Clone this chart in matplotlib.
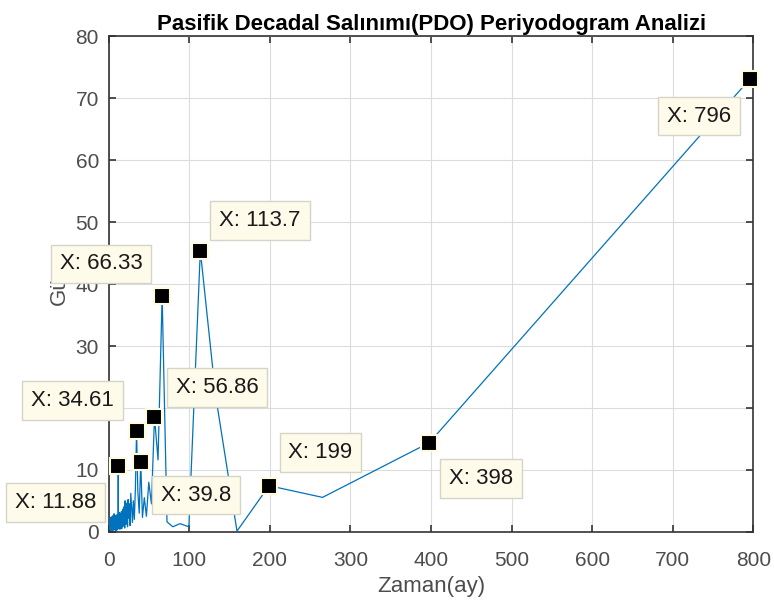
import matplotlib
matplotlib.use("Agg")
import matplotlib.pyplot as plt
import numpy as np

plt.rcParams['font.family'] = ['Liberation Sans', 'DejaVu Sans']

N = 796
# power for harmonic k = 1..70 (period = N / k)
power_main = [
    73.2, 14.4, 5.55, 7.43, 0.1, 22.0, 45.4, 0.8, 1.3, 0.8,
    1.6, 38.1, 11.6, 18.6, 4.5, 8.0, 2.5, 5.5, 2.3, 11.3,
    3.0, 6.5, 16.3, 7.0, 2.0, 5.0, 1.5, 3.8, 6.2, 1.0,
    4.5, 2.2, 5.2, 0.8, 3.5, 4.6, 1.2, 2.8, 5.0, 0.6,
    3.2, 1.8, 4.0, 0.9, 2.4, 3.6, 1.1, 2.9, 0.5, 3.3,
    1.7, 2.6, 0.7, 3.0, 1.4, 2.2, 0.4, 2.7, 1.0, 3.1,
    1.6, 0.8, 2.4, 1.2, 0.5, 2.0, 10.6, 1.8, 0.6, 1.4,
]
# power for harmonic k = 71..398 (short periods, dense cluster)
power_short = [
    0.9, 2.1, 0.3, 1.6, 2.8, 0.7, 1.2, 0.4, 2.3, 1.0, 0.6, 1.9, 2.5, 0.8, 1.3, 0.2, 1.7, 2.2, 0.5, 1.1,
    1.8, 0.4, 2.6, 0.9, 1.4, 0.3, 2.0, 1.2, 0.7, 1.6, 2.4, 0.5, 1.0, 1.9, 0.3, 1.5, 2.7, 0.8, 1.1, 0.6,
    2.2, 1.3, 0.4, 1.7, 0.9, 2.0, 0.6, 1.4, 2.9, 0.7, 1.0, 0.3, 1.8, 2.3, 0.5, 1.2, 0.8, 1.6, 0.4, 2.1,
    1.1, 0.6, 1.9, 0.3, 1.4, 2.5, 0.7, 1.0, 1.7, 0.4, 2.2, 0.9, 1.3, 0.5, 1.8, 0.8, 2.6, 0.6, 1.2, 0.3,
    1.5, 2.0, 0.7, 1.1, 0.4, 1.9, 1.3, 0.5, 2.4, 0.9, 0.6, 1.6, 0.3, 1.2, 2.1, 0.8, 1.0, 0.4, 1.7, 0.6,
    1.4, 2.3, 0.5, 0.9, 1.8, 0.3, 1.1, 2.0, 0.7, 1.3, 0.4, 1.6, 0.8, 2.2, 0.5, 1.0, 1.5, 0.3, 1.9, 0.7,
    1.2, 0.6, 2.0, 0.4, 1.4, 0.9, 1.7, 0.3, 1.1, 2.3, 0.6, 0.8, 1.5, 0.4, 1.9, 1.0, 0.5, 1.3, 2.1, 0.7,
    0.9, 1.6, 0.3, 1.2, 0.6, 2.0, 1.0, 0.4, 1.8, 0.8, 1.3, 0.5, 2.4, 0.7, 1.1, 0.3, 1.6, 0.9, 1.4, 0.5,
    2.0, 0.6, 1.0, 1.7, 0.4, 1.3, 0.8, 2.2, 0.5, 1.1, 0.3, 1.5, 0.9, 1.9, 0.6, 1.2, 0.4, 1.7, 1.0, 0.7,
    1.4, 0.3, 2.1, 0.8, 1.1, 0.5, 1.6, 0.9, 0.4, 1.8, 1.2, 0.6, 2.3, 0.7, 1.0, 0.3, 1.5, 0.8, 1.3, 0.5,
    1.9, 0.6, 1.1, 0.4, 1.7, 0.9, 1.4, 0.3, 2.0, 0.7, 1.2, 0.5, 1.6, 1.0, 0.4, 1.8, 0.8, 1.3, 0.6, 2.2,
    0.9, 0.4, 1.5, 1.1, 0.6, 1.9, 0.8, 0.3, 1.4, 1.0, 2.1, 0.5, 1.2, 0.7, 1.7, 0.4, 1.0, 1.6, 0.6, 1.3,
    0.3, 1.8, 0.9, 1.2, 0.5, 2.0, 0.7, 1.1, 0.4, 1.6, 1.0, 0.6, 1.4, 2.2, 0.8, 0.3, 1.5, 1.2, 0.5, 1.9,
    0.7, 1.0, 1.7, 0.4, 1.3, 0.9, 2.0, 0.6, 1.1, 0.3, 1.6, 0.8, 1.4, 0.5, 1.8, 1.0, 0.7, 1.2, 2.1, 0.4,
    0.9, 1.5, 0.6, 1.1, 1.9, 0.3, 1.3, 0.8, 1.6, 0.5, 1.0, 2.3, 0.7, 1.2, 0.4, 1.7, 0.9, 1.4, 0.6, 1.1,
    2.0, 0.5, 1.3, 0.8, 1.6, 0.3, 1.0, 1.8, 0.7, 1.2, 0.4, 1.5, 2.2, 0.9, 0.6, 1.4, 1.1, 0.3, 1.7, 0.8,
    1.2, 0.5, 1.9, 0.7, 1.0, 1.4, 0.4, 0.9,
]
power = np.array(power_main + power_short)
k = np.arange(1, len(power) + 1)
period = N / k

# data tips: harmonic index, label, text offset in points (dx, dy)
tip_k = [1, 2, 4, 7, 12, 14, 20, 23, 67]
tip_labels = ["X: 796", "X: 398", "X: 199", "X: 113.7", "X: 66.33",
              "X: 56.86", "X: 39.8", "X: 34.61", "X: 11.88"]
tip_offsets = [(-37, -27), (37, -26), (37, 24), (43, 22), (-44, 23),
               (45, 21), (40, -24), (-46, 22), (-45, -26)]

xticks = [0, 100, 200, 300, 400, 500, 600, 700, 800]
yticks = [0, 10, 20, 30, 40, 50, 60, 70, 80]

fig = plt.figure(figsize=(7.74, 6.03), dpi=100)
ax = fig.add_axes([0.1404, 0.1182, 0.8331, 0.8213])

tick_col = '#4d4d4d'
ax.plot(period, power, color='#0072BD', lw=0.9, zorder=3)
ax.set_xlim(0, 800)
ax.set_ylim(0, 80)
ax.set_xticks(xticks)
ax.set_yticks(yticks)
ax.grid(True, color='#dcdcdc', lw=0.8)
ax.set_axisbelow(True)
ax.tick_params(direction='in', length=5, width=1.2, colors='#333333', labelcolor=tick_col,
               labelsize=15, top=True, right=True)
ax.tick_params(axis='x', pad=14)
ax.tick_params(axis='y', pad=7)
for s in ax.spines.values():
    s.set_color('#333333')
    s.set_linewidth(1.2)

ax.set_xlabel("Zaman(ay)", fontsize=16, color=tick_col, labelpad=4)
ax.set_ylabel("Güç", fontsize=16, color=tick_col, labelpad=4)
ax.set_title("Pasifik Decadal Salınımı(PDO) Periyodogram Analizi", fontsize=16,
             fontweight='bold', color='black', pad=5)

for kk, lab, off in zip(tip_k, tip_labels, tip_offsets):
    x = period[kk - 1]
    y = power[kk - 1]
    ax.plot([x], [y], marker='s', ms=11, mfc='black', mec='#fffbe0', mew=1.5,
            zorder=6, clip_on=False)
    ax.annotate(lab, xy=(x, y), xytext=off, textcoords='offset points',
                ha='center', va='center', fontsize=16, color='#1a1a1a', zorder=7,
                annotation_clip=False,
                bbox=dict(boxstyle='square,pad=0.4', fc='#fffbea', ec='#d4d4c8', lw=1))

fig.savefig("out.png", dpi=100)
